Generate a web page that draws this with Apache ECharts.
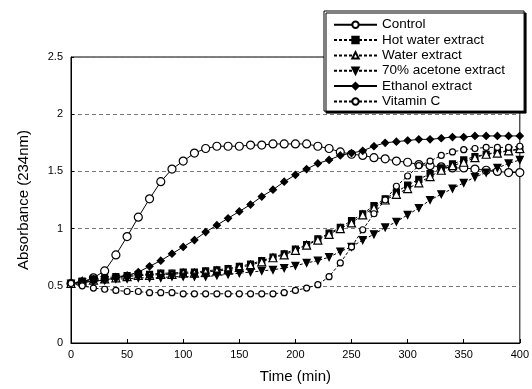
<!DOCTYPE html>
<html>
<head>
<meta charset="utf-8">
<script src="https://cdn.jsdelivr.net/npm/echarts@6/dist/echarts.min.js"></script>
<style>
  html, body { margin: 0; padding: 0; background: #fff; }
  #chart { width: 532px; height: 389px; }
</style>
</head>
<body>
<div id="chart"></div>
<script>
// time points, every 10 min
const times = [0, 10, 20, 30, 40, 50, 60, 70, 80, 90, 100, 110, 120, 130, 140, 150, 160, 170, 180, 190, 200,
  210, 220, 230, 240, 250, 260, 270, 280, 290, 300, 310, 320, 330, 340, 350, 360, 370, 380, 390, 400];

const control = [0.52, 0.53, 0.57, 0.63, 0.77, 0.93, 1.10, 1.26, 1.41, 1.52, 1.59, 1.66, 1.70, 1.72, 1.72, 1.72, 1.73, 1.73, 1.74, 1.74, 1.74,
  1.74, 1.72, 1.70, 1.67, 1.65, 1.64, 1.62, 1.61, 1.59, 1.58, 1.56, 1.55, 1.54, 1.53, 1.53, 1.52, 1.51, 1.50, 1.49, 1.49];
const hotWater = [0.52, 0.54, 0.56, 0.57, 0.58, 0.59, 0.60, 0.60, 0.61, 0.61, 0.62, 0.62, 0.63, 0.64, 0.65, 0.67, 0.69, 0.72, 0.75, 0.78, 0.82,
  0.86, 0.91, 0.96, 1.01, 1.07, 1.13, 1.20, 1.26, 1.32, 1.38, 1.43, 1.48, 1.53, 1.565, 1.60, 1.63, 1.65, 1.67, 1.68, 1.69];
const water = [0.52, 0.54, 0.55, 0.56, 0.57, 0.58, 0.59, 0.59, 0.60, 0.60, 0.61, 0.61, 0.62, 0.63, 0.64, 0.66, 0.68, 0.71, 0.745, 0.77, 0.81,
  0.855, 0.90, 0.95, 1.00, 1.05, 1.12, 1.18, 1.25, 1.30, 1.35, 1.40, 1.455, 1.51, 1.55, 1.58, 1.62, 1.65, 1.66, 1.68, 1.70];
const acetone = [0.52, 0.53, 0.54, 0.55, 0.56, 0.56, 0.57, 0.57, 0.57, 0.58, 0.58, 0.58, 0.58, 0.59, 0.60, 0.61, 0.62, 0.63, 0.64, 0.655, 0.675,
  0.70, 0.72, 0.75, 0.80, 0.84, 0.90, 0.95, 1.01, 1.06, 1.12, 1.18, 1.25, 1.30, 1.35, 1.40, 1.45, 1.49, 1.53, 1.57, 1.60];
const ethanol = [0.52, 0.53, 0.54, 0.55, 0.57, 0.59, 0.62, 0.67, 0.72, 0.78, 0.84, 0.90, 0.97, 1.03, 1.09, 1.15, 1.21, 1.28, 1.34, 1.41, 1.47,
  1.52, 1.57, 1.60, 1.64, 1.66, 1.68, 1.72, 1.75, 1.76, 1.77, 1.78, 1.78, 1.79, 1.80, 1.80, 1.81, 1.81, 1.81, 1.81, 1.81];
const vitaminC = [0.52, 0.50, 0.48, 0.47, 0.46, 0.45, 0.45, 0.44, 0.44, 0.44, 0.43, 0.43, 0.43, 0.43, 0.43, 0.43, 0.43, 0.43, 0.43, 0.44, 0.46,
  0.48, 0.51, 0.58, 0.70, 0.84, 0.99, 1.13, 1.25, 1.37, 1.46, 1.55, 1.59, 1.64, 1.67, 1.69, 1.70, 1.71, 1.71, 1.71, 1.72];

const xTicks = [0, 50, 100, 150, 200, 250, 300, 350, 400];
const yTicks = [0, 0.5, 1, 1.5, 2, 2.5];

const pairs = (vals) => times.map((t, i) => [t, vals[i]]);

const mkSeries = (name, vals, symbol, size, filled, dashed) => ({
  name: name,
  type: 'line',
  data: pairs(vals),
  symbol: symbol,
  symbolSize: size,
  showAllSymbol: true,
  lineStyle: { color: '#000', width: 1, type: dashed ? [3, 2] : 'solid' },
  itemStyle: { color: filled ? '#000' : '#fff', borderColor: '#000', borderWidth: 1.2 },
  emphasis: { disabled: true },
  z: 3
});

const series = [
  mkSeries('Control', control, 'circle', 8, false, false),
  mkSeries('Hot water extract', hotWater, 'rect', 6, true, true),
  mkSeries('Water extract', water, 'triangle', 8, false, true),
  mkSeries('70% acetone extract', acetone, 'path://M0,0 L10,0 L5,9 Z', 7, true, true),
  mkSeries('Ethanol extract', ethanol, 'diamond', 7, true, false),
  mkSeries('Vitamin C', vitaminC, 'circle', 6, false, true)
];

const chart = echarts.init(document.getElementById('chart'));
chart.setOption({
  animation: false,
  backgroundColor: '#fff',
  textStyle: { fontFamily: 'Liberation Sans, Arial, sans-serif', color: '#000' },
  grid: {
    left: 71, right: 8, top: 57, bottom: 44,
    show: true, borderColor: '#000', borderWidth: 1
  },
  legend: {
    orient: 'vertical',
    left: 324, top: 11,
    padding: [6, 19, 2, 9],
    itemWidth: 43, itemHeight: 8, itemGap: 0,
    backgroundColor: '#fff',
    borderColor: '#000', borderWidth: 1,
    shadowColor: '#000', shadowBlur: 0, shadowOffsetX: 2, shadowOffsetY: 2,
    textStyle: { fontSize: 13.5, lineHeight: 15.35, color: '#000', fontFamily: 'Liberation Sans, Arial, sans-serif' },
    data: series.map(s => s.name),
    z: 10
  },
  xAxis: {
    type: 'value',
    min: xTicks[0], max: xTicks[xTicks.length - 1], interval: 50,
    name: 'Time (min)', nameLocation: 'middle', nameGap: 26,
    nameTextStyle: { fontSize: 15, color: '#000' },
    axisLine: { lineStyle: { color: '#000', width: 1 } },
    axisTick: { inside: true, length: 4, lineStyle: { color: '#000' } },
    axisLabel: { fontSize: 11, color: '#000', margin: 6 },
    splitLine: { show: false }
  },
  yAxis: {
    type: 'value',
    min: yTicks[0], max: yTicks[yTicks.length - 1], interval: 0.5,
    name: 'Absorbance (234nm)', nameLocation: 'middle', nameGap: 40,
    nameTextStyle: { fontSize: 15, color: '#000' },
    axisLine: { lineStyle: { color: '#000', width: 1 } },
    axisTick: { inside: true, length: 3, lineStyle: { color: '#000' } },
    axisLabel: { fontSize: 11, color: '#000', margin: 8 },
    splitLine: { show: true, lineStyle: { color: '#777', width: 1, type: [4, 3] } }
  },
  series: series
});
</script>
</body>
</html>
